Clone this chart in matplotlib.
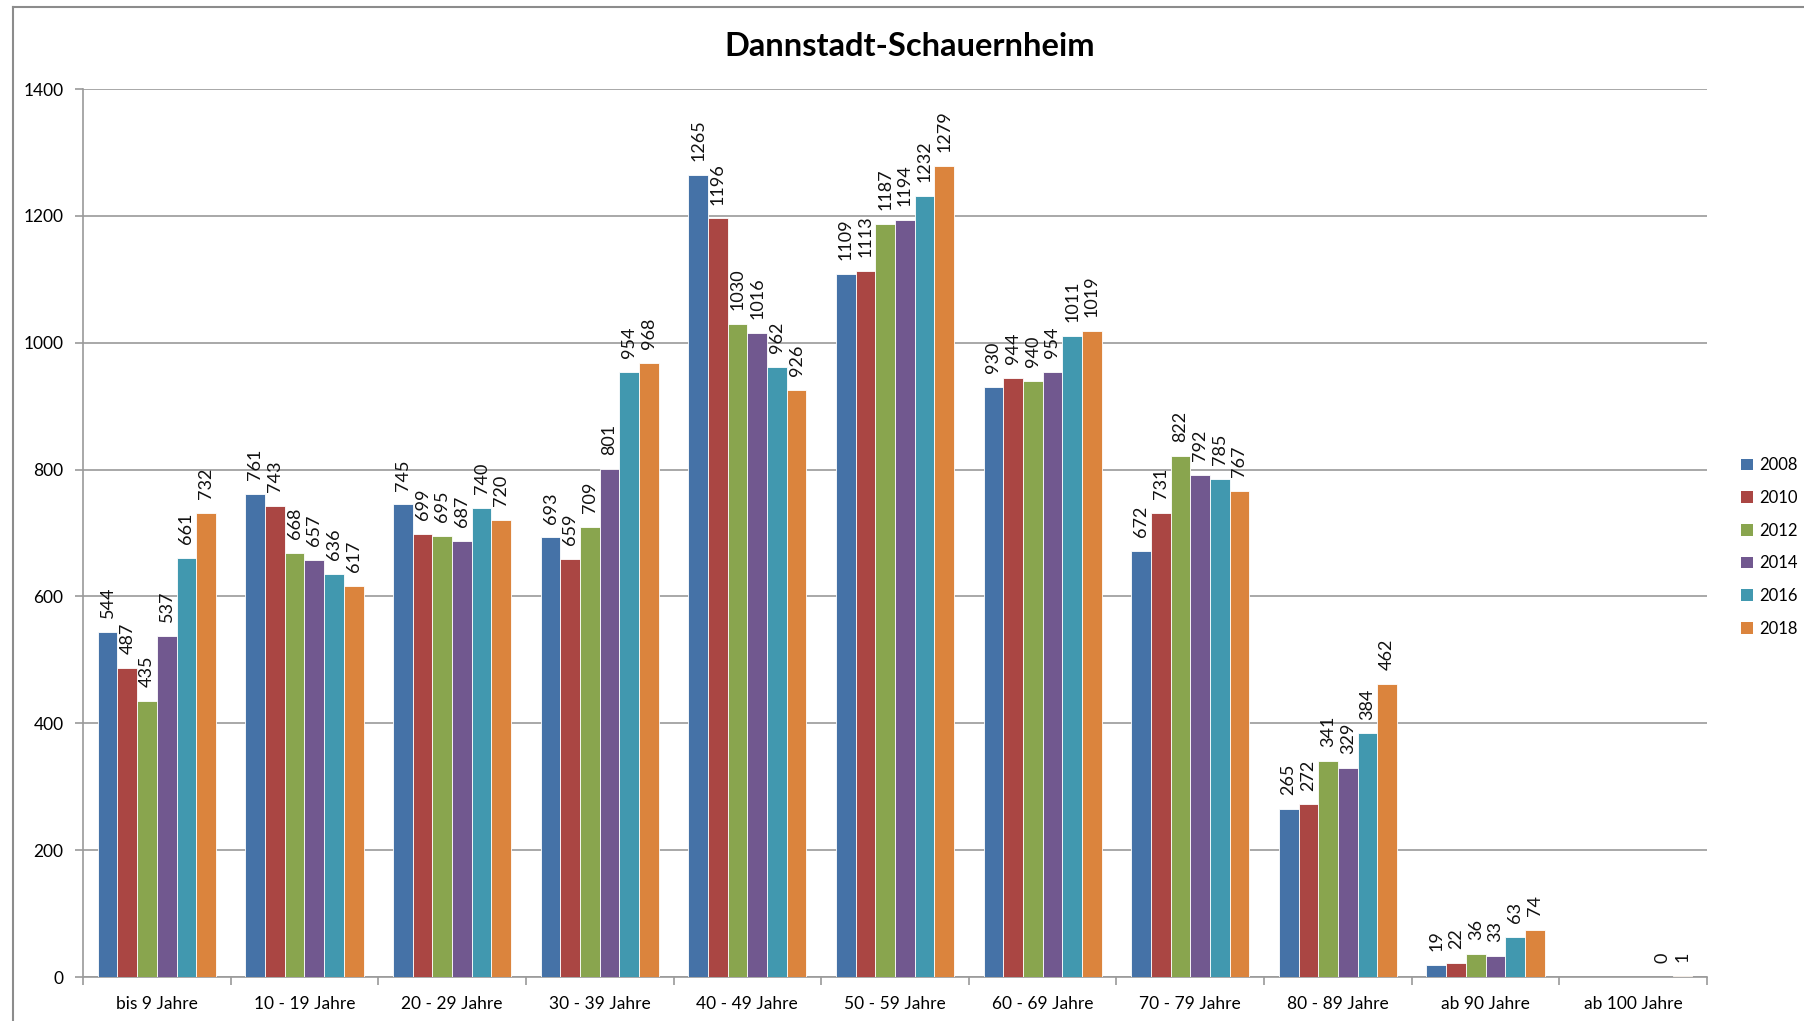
import matplotlib.pyplot as plt
import numpy as np
from matplotlib.lines import Line2D
from matplotlib.patches import Patch

plt.rcParams["font.family"] = ["Lato", "DejaVu Sans"]

CATEGORIES = ["bis 9 Jahre", "10 - 19 Jahre", "20 - 29 Jahre", "30 - 39 Jahre", "40 - 49 Jahre",
              "50 - 59 Jahre", "60 - 69 Jahre", "70 - 79 Jahre", "80 - 89 Jahre", "ab 90 Jahre",
              "ab 100 Jahre"]
YEARS = ["2008", "2010", "2012", "2014", "2016", "2018"]

nan = np.nan
V2008 = [544, 761, 745, 693, 1265, 1109, 930, 672, 265, 19, nan]
V2010 = [487, 743, 699, 659, 1196, 1113, 944, 731, 272, 22, nan]
V2012 = [435, 668, 695, 709, 1030, 1187, 940, 822, 341, 36, nan]
V2014 = [537, 657, 687, 801, 1016, 1194, 954, 792, 329, 33, nan]
V2016 = [661, 636, 740, 954, 962, 1232, 1011, 785, 384, 63, 0]
V2018 = [732, 617, 720, 968, 926, 1279, 1019, 767, 462, 74, 1]
SERIES = [V2008, V2010, V2012, V2014, V2016, V2018]

COLORS = ["#4572A7", "#AA4643", "#89A54E", "#71588F", "#4198AF", "#DB843D"]

fig = plt.figure(figsize=(18.04, 10.21), dpi=100)
ax = fig.add_axes([83 / 1804, 1 - 977 / 1021, (1707 - 83) / 1804, (977 - 89) / 1021])

# outer chart frame (only left and top visible)
fig.add_artist(Line2D([13 / 1804, 13 / 1804], [0, 1 - 7 / 1021], transform=fig.transFigure,
                      color="#8C8C8C", lw=1.5))
fig.add_artist(Line2D([13 / 1804, 1], [1 - 7 / 1021, 1 - 7 / 1021], transform=fig.transFigure,
                      color="#8C8C8C", lw=1.5))

x = np.arange(len(CATEGORIES))
width = 0.8 / len(YEARS)
for i, (vals, col) in enumerate(zip(SERIES, COLORS)):
    pos = x + (i - 2.5) * width
    ax.bar(pos, vals, width, color=col, edgecolor="#FFFFFF", linewidth=0.6, zorder=3)
    for p, v in zip(pos, vals):
        if np.isnan(v):
            continue
        ax.annotate(f"{int(v)}", (p, v), xytext=(0, 10), textcoords="offset points",
                    rotation=90, ha="center", va="bottom", fontsize=13, color="#111111")

ax.set_xlim(-0.5, len(CATEGORIES) - 0.5)
ax.set_ylim(0, 1400)
ax.set_yticks(range(0, 1401, 200))
ax.set_xticks(x)
ax.set_xticklabels(CATEGORIES, fontsize=12.5)
ax.set_xticks(np.arange(-0.5, len(CATEGORIES)), minor=True)
ax.tick_params(axis="x", which="major", length=0, pad=14)
ax.tick_params(axis="x", which="minor", length=6, color="#9A9A9A", width=1.2)
ax.tick_params(axis="y", length=6, color="#9A9A9A", width=1.2, labelsize=12.5, pad=8)

ax.grid(axis="y", color="#9A9A9A", linewidth=1.2, zorder=0)
ax.set_axisbelow(True)
for s in ["top", "right"]:
    ax.spines[s].set_visible(False)
for s in ["left", "bottom"]:
    ax.spines[s].set_color("#9A9A9A")
    ax.spines[s].set_linewidth(1.2)

fig.text(910 / 1804, 1 - 46 / 1021, "Dannstadt-Schauernheim", ha="center", va="center",
         fontsize=23.5, fontweight="bold", color="#000000")

handles = [Patch(facecolor=c, edgecolor="none") for c in COLORS]
fig.legend(handles, YEARS, loc="center left", bbox_to_anchor=(1733 / 1804, 1 - 547 / 1021),
           frameon=False, fontsize=12, handlelength=0.7, handleheight=0.7, handletextpad=0.35,
           labelspacing=1.0, borderpad=0)

fig.savefig("out.png", dpi=100, facecolor="white")
